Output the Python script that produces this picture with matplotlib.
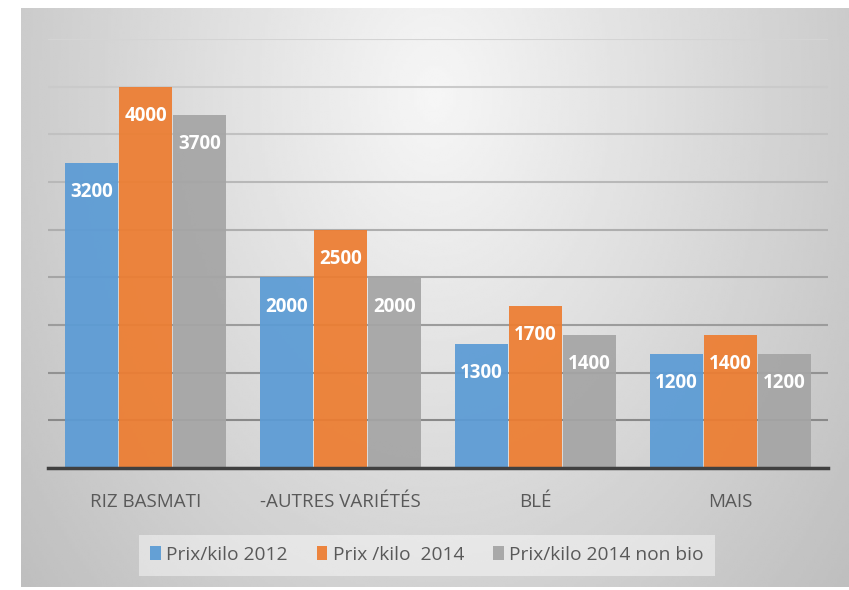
import numpy as np
import matplotlib.pyplot as plt

categories = ['RIZ BASMATI', '-AUTRES VARIÉTÉS', 'BLÉ', 'MAIS']
series_names = ['Prix/kilo 2012', 'Prix /kilo  2014', 'Prix/kilo 2014 non bio']
prix_2012 = [3200, 2000, 1300, 1200]
prix_2014 = [4000, 2500, 1700, 1400]
prix_2014_non_bio = [3700, 2000, 1400, 1200]
yticks = list(range(0, 4501, 500))

colors = ['#5b9bd5', '#ed7d31', '#a5a5a5']

plt.rcParams['font.family'] = ['Open Sans', 'DejaVu Sans']

fig = plt.figure(figsize=(8.49, 5.90), dpi=100)

# gradient background behind the chart
bg = fig.add_axes([21/849, 0.005, 1 - 21/849, 1 - 8/590 - 0.005], zorder=-1)
gx, gy = np.meshgrid(np.linspace(0, 1, 300), np.linspace(0, 1, 300))
r = np.sqrt(((gx - 0.5)/0.6)**2 + ((gy - 0.85)/1.2)**2)
shade = np.clip(0.965 - 0.2*r, 0.7, 1)
bg.imshow(shade, cmap='gray', vmin=0, vmax=1, extent=(0, 1, 0, 1),
          origin='lower', aspect='auto', interpolation='bilinear')
bg.axis('off')

ax = fig.add_axes([48/849, 1 - 468/590, 780/849, 429/590])
ax.patch.set_alpha(0)

x = np.arange(len(categories))
w = 0.272
series = [prix_2012, prix_2014, prix_2014_non_bio]
for i, (vals, c, name) in enumerate(zip(series, colors, series_names)):
    bars = ax.bar(x + (i - 1)*0.277, vals, w, color=c, label=name,
                  zorder=2, alpha=0.93, edgecolor='none')
    for b, v in zip(bars, vals):
        ax.annotate(str(v), (b.get_x() + b.get_width()/2, v), xytext=(0, -21),
                    textcoords='offset points', ha='center', va='center',
                    color='white', fontsize=13.5, fontweight='bold', zorder=4)

ax.set_xlim(-0.5, 3.5)
ax.set_ylim(0, 4500)
ax.set_yticks(yticks)
ax.tick_params(axis='y', length=0, labelleft=False)
ax.set_axisbelow(True)
ax.yaxis.grid(True, linewidth=1.5)
glines = ax.get_ygridlines()
for k, gl in enumerate(glines):
    g = 0.5 + 0.33*k/(len(glines) - 1)
    gl.set_color((g, g, g))

for s in ['top', 'right', 'left']:
    ax.spines[s].set_visible(False)
ax.spines['bottom'].set_color('#404040')
ax.spines['bottom'].set_linewidth(2.5)
ax.spines['bottom'].set_zorder(3)

ax.set_xticks(x, categories)
ax.tick_params(axis='x', length=0, pad=18, labelsize=13.5, labelcolor='#595959')

leg = fig.legend(loc='center', bbox_to_anchor=(0.503, 0.0593), ncol=3,
                 fontsize=13.8, handlelength=0.55, handleheight=0.75,
                 handletextpad=0.3, columnspacing=1.5, borderpad=0.6,
                 fancybox=False, framealpha=0.45)
leg.get_frame().set_facecolor('white')
leg.get_frame().set_edgecolor('none')
for t in leg.get_texts():
    t.set_color('#595959')

fig.savefig('out.png', dpi=100)
